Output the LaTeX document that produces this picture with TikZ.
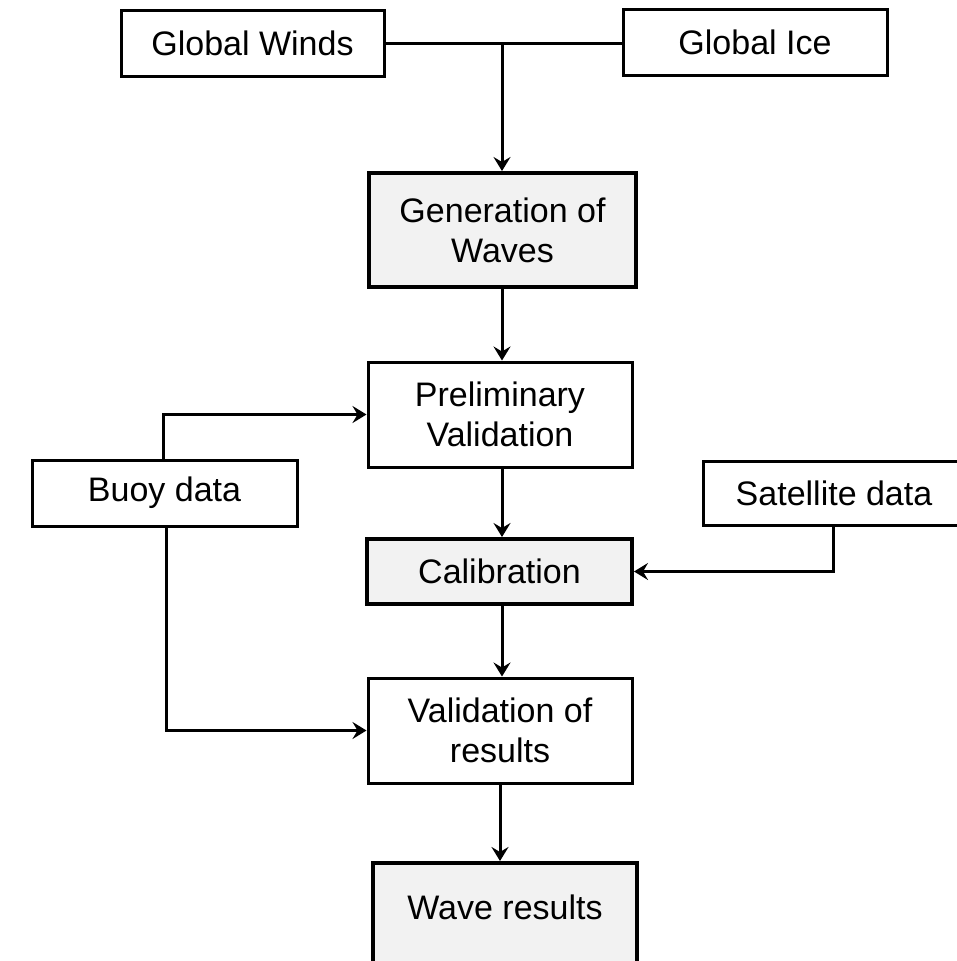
\documentclass[tikz,border=0pt]{standalone}
\usepackage{fontspec}
\setmainfont{Liberation Sans}
\usetikzlibrary{arrows.meta}
\definecolor{boxgray}{HTML}{F2F2F2}
\tikzset{
  whitebox/.style={draw=black, line width=3pt, fill=white, inner sep=0pt, align=center,
    font=\fontsize{34}{40}\selectfont},
  graybox/.style={draw=black, line width=4pt, fill=boxgray, inner sep=0pt, align=center,
    font=\fontsize{34}{40}\selectfont},
  conn/.style={line width=3pt, draw=black},
  arr/.style={conn, -{Stealth[length=14pt,width=17pt,inset=5pt]}}
}
\begin{document}
\begin{tikzpicture}[x=1pt,y=-1pt]
\path[use as bounding box, clip] (0,0) rectangle (957,961);
\fill[white] (0,0) rectangle (957,961);

\node[whitebox, minimum width=263pt, minimum height=66pt] (winds) at (252.5,43.5) {Global Winds};
\node[whitebox, minimum width=264pt, minimum height=66pt] (ice) at (755,42.5) {Global Ice};
\node[graybox, minimum width=267pt, minimum height=114pt] (gen) at (502.5,230) {Generation of\\Waves};
\node[whitebox, minimum width=264pt, minimum height=105pt] (prelim) at (500,414.5) {Preliminary\\Validation};
\node[whitebox, minimum width=265pt, minimum height=66pt] (buoy) at (164.5,493) {Buoy data};
\node[whitebox, minimum width=262pt, minimum height=64pt] (sat) at (834,493) {Satellite data};
\node[graybox, minimum width=265pt, minimum height=65pt] (calib) at (499.5,571.5) {Calibration};
\node[whitebox, minimum width=264pt, minimum height=105pt] (valid) at (500,730.5) {Validation of\\results};
\node[graybox, minimum width=264pt, text height=56pt, text depth=60pt, anchor=north] (wave) at (505,861) {Wave results};

\coordinate (junc) at (502,43);
\draw[conn] (winds.east |- junc) -- (ice.west |- junc);
\draw[arr] (junc) -- (gen.north -| junc);
\draw[arr] (gen.south -| junc) -- (prelim.north -| junc);
\draw[arr] (buoy.north -| 163,0) |- (prelim.west);
\draw[arr] (prelim.south -| junc) -- (calib.north -| junc);
\draw[arr] (sat.south -| 833,0) |- (calib.east);
\draw[arr] (calib.south -| junc) -- (valid.north -| junc);
\draw[arr] (buoy.south -| 166,0) |- (valid.west);
\draw[arr] (valid.south) -- (wave.north -| valid.south);
\end{tikzpicture}
\end{document}
